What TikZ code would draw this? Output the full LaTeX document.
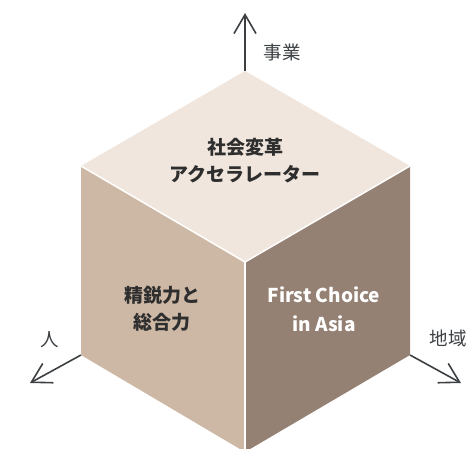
\documentclass[tikz,border=0pt]{standalone}
\usepackage{fontspec}
\setmainfont{Noto Sans CJK JP}
\usetikzlibrary{arrows.meta}
\definecolor{topc}{HTML}{F0E6DD}
\definecolor{leftc}{HTML}{CDB8A5}
\definecolor{rightc}{HTML}{958174}
\definecolor{axisc}{HTML}{3C4043}
\definecolor{textc}{HTML}{2E2E2E}
\tikzset{
  axis/.style={draw=axisc, line width=1.6pt, -{Straight Barb[length=19pt,width=22pt,line width=1.6pt]}},
  axislabel/.style={text=axisc, font=\fontsize{18.5}{20}\selectfont, inner sep=0pt},
  facetext/.style={font=\fontsize{19}{27}\selectfont\bfseries, align=center, inner sep=0pt},
  latintext/.style={font=\fontsize{19}{29}\selectfont\bfseries, align=center, inner sep=0pt},
  seam/.style={draw=white, line width=1.5pt},
}
\begin{document}
\begin{tikzpicture}[x=1pt,y=-1pt]
\useasboundingbox (0,0) rectangle (471,448);
\coordinate (T) at (245,71);
\coordinate (L) at (81,166);
\coordinate (C) at (245,262);
\coordinate (R) at (410,166);
\coordinate (LB) at (81,355);
\coordinate (RB) at (410,355);
\coordinate (B) at (245,452);
\begin{scope}
\clip (0,0) rectangle (471,448);
\fill[topc] (T) -- (R) -- (C) -- (L) -- cycle;
\fill[leftc] (L) -- (C) -- (B) -- (LB) -- cycle;
\fill[rightc] (C) -- (R) -- (RB) -- (B) -- cycle;
\draw[seam] (L) -- (C) -- (R);
\draw[seam] (C) -- (B);
\end{scope}
\coordinate (up) at (245,13);
\coordinate (lt) at (30,383);
\coordinate (rt) at (461,383);
\draw[axis] (T) -- (up);
\draw[axis] (LB) -- (lt);
\draw[axis] (RB) -- (rt);
\node[axislabel] (jigyo) at (282,52) {事業};
\node[axislabel] (hito) at (50,340) {人};
\node[axislabel] (chiiki) at (448,338) {地域};
\node[facetext, text=textc] (topt) at (245,160.5) {社会変革\\アクセラレーター};
\node[facetext, text=textc] (leftt) at (162,309) {精鋭力と\\総合力};
\node[latintext, text=white] (rightt) at (324,309) {First Choice\\in Asia};
\end{tikzpicture}
\end{document}
